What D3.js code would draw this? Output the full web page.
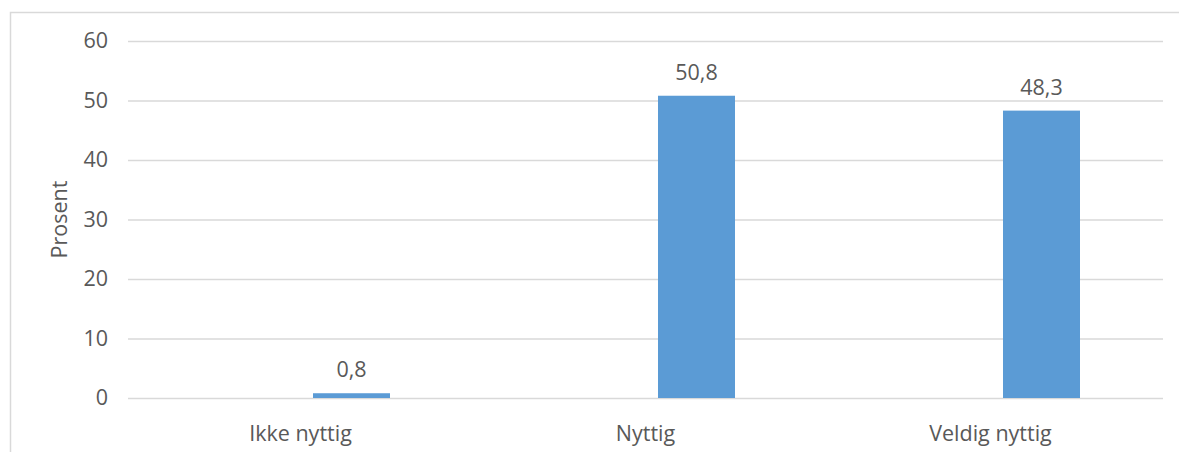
<!DOCTYPE html>
<html>
<head>
<meta charset="utf-8">
<script src="https://cdn.jsdelivr.net/npm/d3@7"></script>
<style>
  html, body { margin: 0; padding: 0; background: #fff; }
  svg { display: block; }
  text { font-family: "Open Sans", Lato, sans-serif; fill: #595959; }
</style>
</head>
<body>
<svg id="chart" width="1179" height="452"></svg>
<script>
// Chart data
const categories = ["Ikke nyttig", "Nyttig", "Veldig nyttig"];
const values = [0.8, 50.8, 48.3];
const valueLabels = ["0,8", "50,8", "48,3"];
const yTicks = [0, 10, 20, 30, 40, 50, 60];
const yTitle = "Prosent";

const W = 1179, H = 452;
const plot = { left: 128, right: 1163, top: 41, bottom: 398 };
const FONT = "'Open Sans', Lato, sans-serif";
const FS = 21.5;

const svg = d3.select("#chart");

// Outer chart frame
svg.append("rect")
  .attr("x", 10.5).attr("y", 12.5)
  .attr("width", W + 20).attr("height", H + 20)
  .attr("fill", "none").attr("stroke", "#d9d9d9").attr("stroke-width", 1.5);

const x = d3.scaleBand()
  .domain(categories)
  .range([plot.left, plot.right])
  .padding(0);

// Two slots per category; the values sit in the right-hand slot
const slot = d3.scaleBand()
  .domain(["a", "b"])
  .range([-89.5, 89.5])
  .paddingInner(0.245)
  .paddingOuter(0);

const y = d3.scaleLinear().domain([0, 60]).range([plot.bottom, plot.top]);

// Gridlines and tick labels
const yAxis = d3.axisLeft(y)
  .tickValues(yTicks)
  .tickSize(-(plot.right - plot.left))
  .tickPadding(20)
  .tickFormat(d3.format("d"));

const gy = svg.append("g")
  .attr("transform", `translate(${plot.left},0)`)
  .call(yAxis);
gy.select(".domain").remove();
gy.selectAll(".tick line").attr("stroke", "#d9d9d9").attr("stroke-width", 1.5);
gy.selectAll(".tick text")
  .attr("font-size", FS)
  .style("font-family", FONT)
  .attr("fill", "#595959");

// Bars
const barX = c => x(c) + x.bandwidth() / 2 + slot("b");
svg.append("g").selectAll("rect")
  .data(categories)
  .join("rect")
  .attr("x", c => barX(c))
  .attr("width", slot.bandwidth())
  .attr("y", (c, i) => y(values[i]))
  .attr("height", (c, i) => y(0) - y(values[i]))
  .attr("fill", "#5b9bd5");

// Value labels
svg.append("g").selectAll("text")
  .data(categories)
  .join("text")
  .attr("x", c => barX(c) + slot.bandwidth() / 2)
  .attr("y", (c, i) => y(values[i]) - 16)
  .attr("text-anchor", "middle")
  .attr("font-size", FS)
  .text((c, i) => valueLabels[i]);

// Category labels
svg.append("g").selectAll("text")
  .data(categories)
  .join("text")
  .attr("x", c => x(c) + x.bandwidth() / 2)
  .attr("y", 441)
  .attr("text-anchor", "middle")
  .attr("font-size", FS)
  .text(c => c);

// Axis title
svg.append("text")
  .attr("transform", `translate(67,${(plot.top + plot.bottom) / 2}) rotate(-90)`)
  .attr("text-anchor", "middle")
  .attr("font-size", FS)
  .text(yTitle);
</script>
</body>
</html>
